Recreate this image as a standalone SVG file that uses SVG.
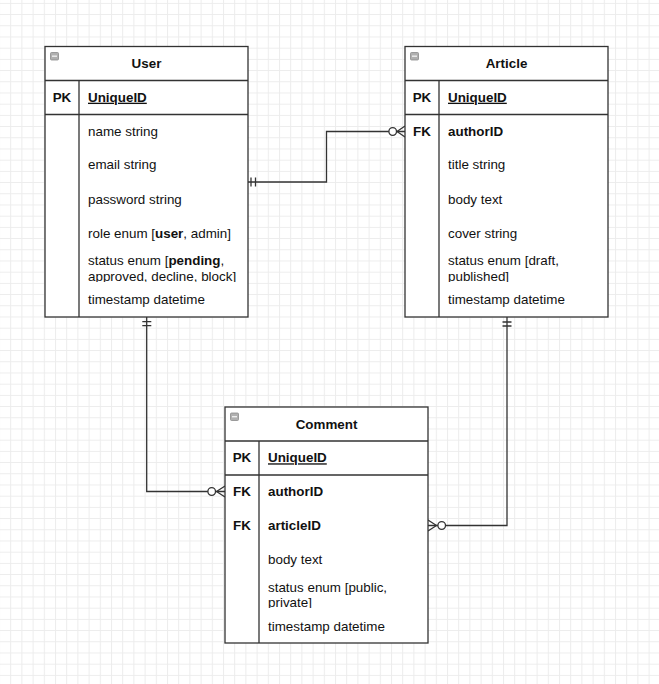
<svg xmlns="http://www.w3.org/2000/svg" width="659" height="684" viewBox="0 0 659 684">
  <defs>
    <pattern id="grid" patternUnits="userSpaceOnUse" x="10.2" y="2.9" width="11.2" height="11.2">
      <path d="M0 0.5 H11.2 M0.5 0 V11.2" fill="none" stroke="#ececec" stroke-width="1"/>
    </pattern>
    <clipPath id="cUser"><rect x="80" y="245" width="166" height="37"/></clipPath>
    <clipPath id="cArt"><rect x="440" y="245" width="166" height="37"/></clipPath>
    <clipPath id="cCom"><rect x="260" y="573" width="166" height="35"/></clipPath>
  </defs>
  <style>
    .box { fill: #ffffff; stroke: #333333; stroke-width: 1.3; }
    .ln { fill: none; stroke: #333333; stroke-width: 1.3; }
    text { font-family: "Liberation Sans", Arial, sans-serif; font-size: 13.4px; fill: #111111; }
    .title { font-weight: bold; text-anchor: middle; }
    .key { font-weight: bold; text-anchor: middle; }
    .pk { font-weight: bold; text-decoration: underline; }
    .b { font-weight: bold; }
    .icon { fill: #b0b0b0; stroke: #8a8a8a; stroke-width: 0.8; }
    .iconline { stroke: #eeeeee; stroke-width: 1.4; }
    .conn { fill: none; stroke: #333333; stroke-width: 1.3; }
    .circ { fill: #ffffff; stroke: #333333; stroke-width: 1.3; }
  </style>
  <rect x="0" y="0" width="659" height="684" fill="#ffffff"/>
  <rect x="0" y="0" width="659" height="684" fill="url(#grid)"/>

  <g id="connectors">
    <!-- User 1 : N Article -->
    <path class="conn" d="M248 182 H326.5 V131.5 H405"/>
    <path class="conn" d="M251 177.5 V186.5 M255.5 177.5 V186.5"/>
    <path class="conn" d="M397 131.5 L405 126 M397 131.5 L405 137"/>
    <circle class="circ" cx="392.7" cy="131.5" r="3.8"/>
    <!-- User 1 : N Comment -->
    <path class="conn" d="M146.7 317 V491.5 H225"/>
    <path class="conn" d="M142.3 321.7 H151.3 M142.3 325.7 H151.3"/>
    <path class="conn" d="M216.5 491.5 L225 486 M216.5 491.5 L225 497"/>
    <circle class="circ" cx="211.7" cy="491.5" r="3.8"/>
    <!-- Article 1 : N Comment -->
    <path class="conn" d="M507 317 V525.5 H428"/>
    <path class="conn" d="M502.5 322 H511.5 M502.5 326 H511.5"/>
    <path class="conn" d="M436.5 525.5 L428 520 M436.5 525.5 L428 531"/>
    <circle class="circ" cx="441.7" cy="525.5" r="3.8"/>
  </g>

  <g id="user">
    <rect class="box" x="45" y="46.5" width="203" height="270.5"/>
    <path class="ln" d="M45 80.5 H248 M45 114.5 H248 M79 80.5 V317"/>
    <rect class="icon" x="50.5" y="52.5" width="8" height="7.5" rx="1"/>
    <line class="iconline" x1="52" y1="56.2" x2="57" y2="56.2"/>
    <text class="title" x="146.5" y="68.3">User</text>
    <text class="key" x="62" y="101.7">PK</text>
    <text class="pk" x="88" y="101.7">UniqueID</text>
    <text x="88" y="135.5">name string</text>
    <text x="88" y="169">email string</text>
    <text x="88" y="203.5">password string</text>
    <text x="88" y="237.5">role enum [<tspan class="b">user</tspan>, admin]</text>
    <g clip-path="url(#cUser)">
      <text x="88" y="264.5">status enum [<tspan class="b">pending</tspan>,</text>
      <text x="88" y="280.5">approved, decline, block]</text>
    </g>
    <text x="88" y="304">timestamp datetime</text>
  </g>

  <g id="article">
    <rect class="box" x="405" y="46.5" width="203" height="270.5"/>
    <path class="ln" d="M405 80.5 H608 M405 114.5 H608 M439 80.5 V317"/>
    <rect class="icon" x="410.5" y="52.5" width="8" height="7.5" rx="1"/>
    <line class="iconline" x1="412" y1="56.2" x2="417" y2="56.2"/>
    <text class="title" x="506.5" y="68.3">Article</text>
    <text class="key" x="422" y="101.7">PK</text>
    <text class="pk" x="448" y="101.7">UniqueID</text>
    <text class="key" x="422" y="135.5">FK</text>
    <text class="b" x="448" y="135.5">authorID</text>
    <text x="448" y="169">title string</text>
    <text x="448" y="203.5">body text</text>
    <text x="448" y="237.5">cover string</text>
    <g clip-path="url(#cArt)">
      <text x="448" y="264.5">status enum [draft,</text>
      <text x="448" y="280.5">published]</text>
    </g>
    <text x="448" y="304">timestamp datetime</text>
  </g>

  <g id="comment">
    <rect class="box" x="225" y="407" width="203" height="236"/>
    <path class="ln" d="M225 441 H428 M225 475 H428 M259 441 V643"/>
    <rect class="icon" x="230.5" y="413" width="8" height="7.5" rx="1"/>
    <line class="iconline" x1="232" y1="416.7" x2="237" y2="416.7"/>
    <text class="title" x="326.5" y="429">Comment</text>
    <text class="key" x="242" y="462.3">PK</text>
    <text class="pk" x="268" y="462.3">UniqueID</text>
    <text class="key" x="242" y="496">FK</text>
    <text class="b" x="268" y="496">authorID</text>
    <text class="key" x="242" y="529.5">FK</text>
    <text class="b" x="268" y="529.5">articleID</text>
    <text x="268" y="563.5">body text</text>
    <g clip-path="url(#cCom)">
      <text x="268" y="591.7">status enum [public,</text>
      <text x="268" y="606.5">private]</text>
    </g>
    <text x="268" y="631">timestamp datetime</text>
  </g>
</svg>
